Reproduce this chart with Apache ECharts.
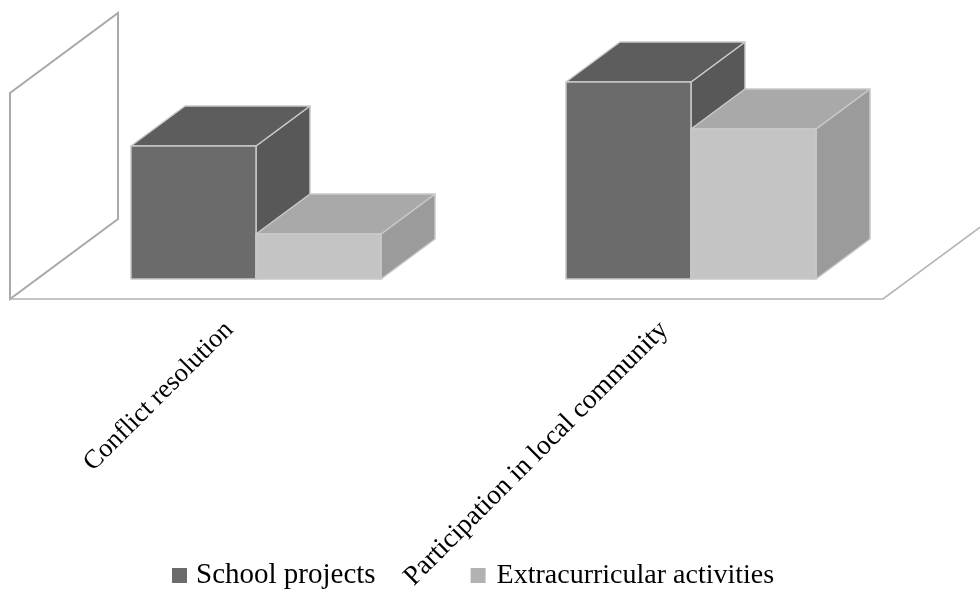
<!DOCTYPE html>
<html><head><meta charset="utf-8">
<style>html,body{margin:0;padding:0;background:#fff}#c{width:980px;height:589px}</style>
<script src="https://cdn.jsdelivr.net/npm/echarts@6/dist/echarts.min.js"></script>
</head><body><div id="c"></div>
<script>
var categories = ['Conflict resolution', 'Participation in local community'];
var schoolProjects = [33.25, 49.25];
var extracurricular = [11.25, 37.5];
var seriesNames = ['School projects', 'Extracurricular activities'];
var wallValue = [51.5];

var DX = 54, DY = -40, BAR_FRACTION = 0.2874, FLOOR_PAD = 1.5;
var palette = [
  {front:'#6b6b6b', top:'#5d5d5d', side:'#585858', legend:'#6b6b6b'},
  {front:'#c4c4c4', top:'#a9a9a9', side:'#9b9b9b', legend:'#b2b2b2'}
];
var edge = {stroke:'#c9c9c9', lineWidth:1.5};

function box(pos){
  var c = palette[pos];
  return function(params, api){
    var i = api.value(0), band = api.size([1,0])[0], w = band*BAR_FRACTION;
    var p = api.coord([i, api.value(1)]), b = api.coord([i, 0]);
    var x0 = p[0] + (pos===0 ? -w : 0), x1 = x0 + w, yt = p[1], yb = b[1];
    function poly(pts, fill){
      return {type:'polygon', shape:{points:pts}, style:{fill:fill, stroke:edge.stroke, lineWidth:edge.lineWidth, lineJoin:'round'}};
    }
    return {type:'group', children:[
      poly([[x1,yt],[x1+DX,yt+DY],[x1+DX,yb+DY],[x1,yb]], c.side),
      poly([[x0,yt],[x0+DX,yt+DY],[x1+DX,yt+DY],[x1,yt]], c.top),
      poly([[x0,yt],[x1,yt],[x1,yb],[x0,yb]], c.front)
    ]};
  };
}

function backdrop(params, api){
  var band = api.size([1,0])[0];
  var base = api.coord([0,0]), top = api.coord([0, api.value(1)]), last = api.coord([categories.length-1,0]);
  var fx = base[0]-band/2-DX/2-FLOOR_PAD, fy = base[1]-DY/2, ty = top[1]-DY/2;
  var rx = last[0]+band/2-DX/2+FLOOR_PAD;
  var st = {fill:'none', stroke:'#b4b4b4', lineWidth:1.6};
  return {type:'group', children:[
    {type:'polygon', shape:{points:[[fx,fy],[fx,ty],[fx+2*DX,ty+2*DY],[fx+2*DX,fy+2*DY]]}, style:{fill:'#fff', stroke:'#a9a9a9', lineWidth:2}},
    {type:'polyline', shape:{points:[[fx,fy],[rx,fy],[rx+2*DX,fy+2*DY]]}, style:st}
  ]};
}

var chart = echarts.init(document.getElementById('c'), null, {renderer:'canvas'});
chart.setOption({
  animation:false,
  backgroundColor:'#fff',
  textStyle:{fontFamily:'Liberation Serif'},
  grid:{left:38.5, width:870, top:73, height:206, containLabel:false, outerBoundsMode:'none'},
  legend:{
    left:167, top:556, itemWidth:15, itemHeight:15, itemGap:95,
    selectedMode:false,
    data:[
      {name:seriesNames[0], icon:'rect', itemStyle:{color:palette[0].legend, borderWidth:0},
       textStyle:{fontFamily:'Liberation Serif', fontSize:29, color:'#000', padding:[0,0,0,4]}},
      {name:seriesNames[1], icon:'rect', itemStyle:{color:palette[1].legend, borderWidth:0},
       textStyle:{fontFamily:'Liberation Serif', fontSize:28, color:'#000', padding:[0,0,0,6]}}
    ]
  },
  xAxis:{type:'category',
    data:[
      {value:categories[0], textStyle:{fontSize:26.5}},
      {value:categories[1], textStyle:{fontSize:27.5}}
    ],
    axisLine:{show:false}, axisTick:{show:false}, splitLine:{show:false},
    axisLabel:{interval:0, rotate:45, margin:20, fontFamily:'Liberation Serif', color:'#000', padding:[0,38,0,0], hideOverlap:false}
  },
  yAxis:{type:'value', min:0, max:51.5, show:false, splitLine:{show:false}},
  series:[
    {type:'custom', name:'backdrop', silent:true, clip:false, renderItem:backdrop, encode:{x:0,y:1}, data:[[0, wallValue[0]]], z:1},
    {type:'custom', name:seriesNames[0], clip:false, renderItem:box(0), encode:{x:0,y:1},
     itemStyle:{color:palette[0].legend}, data:schoolProjects.map(function(v,i){return [i,v];}), z:2},
    {type:'custom', name:seriesNames[1], clip:false, renderItem:box(1), encode:{x:0,y:1},
     itemStyle:{color:palette[1].legend}, data:extracurricular.map(function(v,i){return [i,v];}), z:3}
  ]
});
</script></body></html>
